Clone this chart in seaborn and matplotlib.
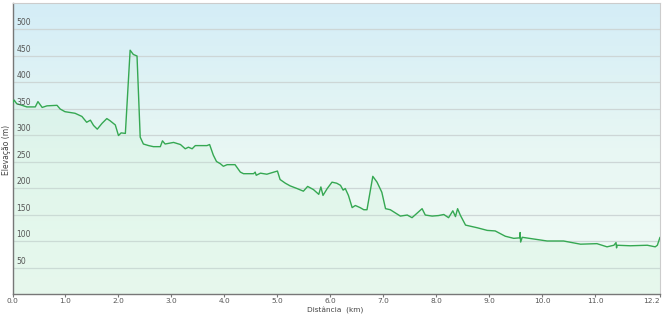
import numpy as np
import pandas as pd
import matplotlib
matplotlib.use("Agg")
import matplotlib.pyplot as plt
import seaborn as sns
from matplotlib.colors import LinearSegmentedColormap

# ---- data ----
distance_km = [
    0.00, 0.03, 0.08, 0.15, 0.27, 0.43, 0.48, 0.56, 0.65, 0.84, 0.90, 0.99,
    1.18, 1.31, 1.40, 1.47, 1.53, 1.60, 1.69, 1.78, 1.84, 1.94, 2.00, 2.05,
    2.13, 2.22, 2.28, 2.35, 2.41, 2.47, 2.57, 2.66, 2.79, 2.83, 2.88, 3.04,
    3.17, 3.26, 3.32, 3.39, 3.45, 3.67, 3.72, 3.79, 3.85, 3.92, 3.98, 4.05,
    4.20, 4.30, 4.36, 4.55, 4.58, 4.60, 4.68, 4.80, 5.00, 5.05, 5.15, 5.24,
    5.37, 5.49, 5.57, 5.68, 5.78, 5.82, 5.86, 5.94, 6.03, 6.12, 6.19, 6.24,
    6.28, 6.34, 6.41, 6.47, 6.56, 6.63, 6.69, 6.80, 6.88, 6.97, 7.04, 7.13,
    7.32, 7.45, 7.54, 7.63, 7.73, 7.79, 7.92, 8.04, 8.14, 8.23, 8.31, 8.36,
    8.40, 8.45, 8.55, 8.77, 8.96, 9.11, 9.30, 9.46, 9.575, 9.58, 9.59, 9.62,
    10.09, 10.40, 10.72, 11.03, 11.22, 11.35, 11.39, 11.40, 11.41, 11.66,
    11.98, 12.13, 12.17, 12.22,
]
elevation_m = [
    359, 366, 359, 357, 353, 353, 363, 352, 355, 356, 349, 344,
    341, 335, 324, 328, 318, 311, 322, 331, 327, 319, 299, 304,
    303, 460, 452, 449, 296, 283, 280, 278, 278, 289, 283, 286,
    282, 274, 277, 274, 280, 280, 282, 262, 250, 246, 241, 244,
    244, 230, 227, 227, 230, 224, 228, 226, 232, 216, 209, 204,
    199, 194, 203, 197, 188, 202, 186, 199, 211, 209, 205, 196,
    199, 186, 163, 167, 163, 159, 159, 222, 211, 192, 161, 159,
    147, 149, 144, 152, 161, 149, 147, 148, 150, 144, 157, 146,
    161, 149, 130, 125, 120, 119, 109, 105, 106, 116, 98, 107,
    100, 100, 94, 95, 89, 92, 97, 87, 92, 91,
    92, 89, 92, 107,
]
x_ticks = [0, 1, 2, 3, 4, 5, 6, 7, 8, 9, 10, 11]
x_tick_labels = ["0.0", "1.0", "2.0", "3.0", "4.0", "5.0", "6.0", "7.0",
                 "8.0", "9.0", "10.0", "11.0"]
end_label = "12.2"
y_ticks = [50, 100, 150, 200, 250, 300, 350, 400, 450, 500]
y_max = 550
x_title = "Distância  (km)"
y_title = "Elevação (m)"

df = pd.DataFrame({"dist": distance_km, "elev": elevation_m})

sns.set_style("white")
plt.rcParams["font.family"] = ["DejaVu Sans"]

fig = plt.figure(figsize=(6.64, 3.16), dpi=100)
ax = fig.add_axes([12.5 / 664, 22 / 316, (660 - 12.5) / 664, (313.5 - 22) / 316])

# background gradient (light blue top -> pale green bottom)
cmap_bg = LinearSegmentedColormap.from_list("bg", ["#f1fbf5", "#e8f7f3", "#d4edf7"])
grad = np.linspace(0, 1, 256).reshape(-1, 1)
ax.imshow(grad, aspect="auto", cmap=cmap_bg, origin="lower",
          extent=[0, 1, 0, 1], transform=ax.transAxes, zorder=0)

# grid lines
for v in y_ticks:
    ax.axhline(v, color="#cdd6d6", lw=0.9, zorder=1)

# filled area under the profile
ax.fill_between(df["dist"], df["elev"], 0, color="#c4f0d2", alpha=0.22,
                lw=0, zorder=2)
sns.lineplot(data=df, x="dist", y="elev", ax=ax, color="#35a852",
             lw=1.0, zorder=3, estimator=None, sort=False)

ax.set_xlim(df["dist"].iloc[0], df["dist"].iloc[-1])
ax.set_ylim(0, y_max)

ax.set_xticks(x_ticks + [df["dist"].iloc[-1]])
ax.set_xticklabels(x_tick_labels + [end_label], fontsize=5.3, color="#555555")
ax.get_xticklabels()[-1].set_horizontalalignment("right")
ax.tick_params(axis="x", direction="out", length=2, width=0.8,
               color="#777777", pad=0.8, bottom=True)
ax.set_yticks([])
for v in y_ticks:
    ax.text(0.006, v + 3, str(v), transform=ax.get_yaxis_transform(),
            fontsize=5.5, color="#555555", ha="left", va="bottom", zorder=4)

ax.set_xlabel("")
ax.set_ylabel("")
fig.text(335 / 664, 1 - 311 / 316, x_title, fontsize=5.3,
         color="#444444", ha="center", va="center")
fig.text(7 / 664, 1 - 150 / 316, y_title, rotation=90, fontsize=5.5,
         color="#444444", ha="center", va="center")

for side in ["left", "bottom"]:
    ax.spines[side].set_color("#777777")
    ax.spines[side].set_linewidth(1.0)
for side in ["top", "right"]:
    ax.spines[side].set_color("#cccccc")
    ax.spines[side].set_linewidth(0.8)

fig.savefig("out.png", dpi=100, facecolor="white")
